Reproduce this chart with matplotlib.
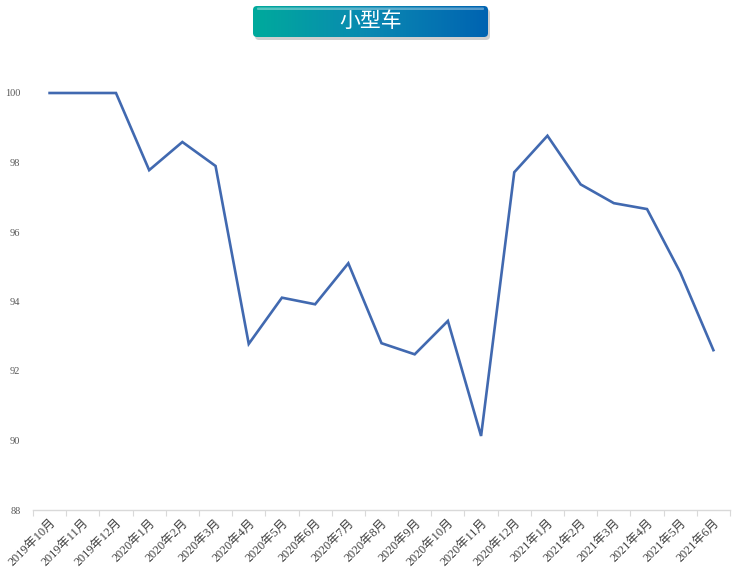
import numpy as np
import matplotlib
matplotlib.use("Agg")
import matplotlib.pyplot as plt
from matplotlib.patches import FancyBboxPatch

plt.rcParams['font.family'] = ['Liberation Serif', 'Noto Sans CJK SC']

# data
months = ['2019年10月', '2019年11月', '2019年12月',
          '2020年1月', '2020年2月', '2020年3月', '2020年4月', '2020年5月', '2020年6月',
          '2020年7月', '2020年8月', '2020年9月', '2020年10月', '2020年11月', '2020年12月',
          '2021年1月', '2021年2月', '2021年3月', '2021年4月', '2021年5月', '2021年6月']
values = [100, 100, 100,
          97.78, 98.59, 97.90, 92.78, 94.11, 93.92,
          95.10, 92.80, 92.48, 93.44, 90.13, 97.72,
          98.77, 97.37, 96.83, 96.66, 94.84, 92.60]
title = '小型车'
yticks = [88, 90, 92, 94, 96, 98, 100]

W, H = 744, 576
fig = plt.figure(figsize=(W / 100, H / 100), dpi=100)
ax = fig.add_axes([33 / W, 1 - 510 / H, 697 / W, (510 - 23.5) / H])

x = np.arange(len(months))
ax.plot(x, values, color='#4169b0', lw=1.9, solid_joinstyle='miter')

ax.set_xlim(-0.5, len(months) - 0.5)
ax.set_ylim(88, 102)
ax.set_yticks(yticks)
ax.set_yticklabels([str(v) for v in yticks], color='#595959', fontsize=7.5)
ax.tick_params(axis='y', length=0, pad=9)

ax.set_xticks(x)
ax.set_xticklabels(months, rotation=45, ha='right', va='top',
                   rotation_mode='anchor', fontsize=8.8, color='#404040')
ax.tick_params(axis='x', which='major', length=0, pad=5)
ax.set_xticks(np.arange(-0.5, len(months)), minor=True)
ax.tick_params(axis='x', which='minor', length=4, color='#d9d9d9', width=0.8)

for s in ['top', 'right', 'left']:
    ax.spines[s].set_visible(False)
ax.spines['bottom'].set_color('#d9d9d9')
ax.spines['bottom'].set_linewidth(1.0)

# title banner with gradient, axes in pixel units
bx0, by0, bw, bh = 251, 4, 241, 36
bax = fig.add_axes([bx0 / W, 1 - (by0 + bh) / H, bw / W, bh / H])
bax.set_axis_off()
bax.set_xlim(0, bw)
bax.set_ylim(0, bh)
# shadow
bax.add_patch(FancyBboxPatch((4, 0), bw - 6, bh - 5, boxstyle='round,pad=0,rounding_size=4',
                             fc='#b0b0b0', ec='none', alpha=0.6, zorder=0))
grad = np.linspace(0, 1, 256).reshape(1, -1)
cmap = matplotlib.colors.LinearSegmentedColormap.from_list('bn', ['#00aa9c', '#0a88b2', '#0063b1'])
img = bax.imshow(grad, aspect='auto', cmap=cmap, extent=[2, bw - 4, 3, bh - 2], zorder=1)
clip = FancyBboxPatch((2, 3), bw - 6, bh - 5, boxstyle='round,pad=0,rounding_size=4',
                      fc='none', ec='none')
bax.add_patch(clip)
img.set_clip_path(clip)
# glossy highlight near top edge
bax.add_patch(FancyBboxPatch((6, bh - 6), bw - 14, 2.5, boxstyle='round,pad=0,rounding_size=1',
                             fc='white', ec='none', alpha=0.35, zorder=2))
bax.text(bw / 2 - 1, bh / 2 + 1, title, ha='center', va='center', color='white', fontsize=15,
         family=['Noto Sans CJK SC'], zorder=3)

fig.savefig('out.png', dpi=100, facecolor='white')
